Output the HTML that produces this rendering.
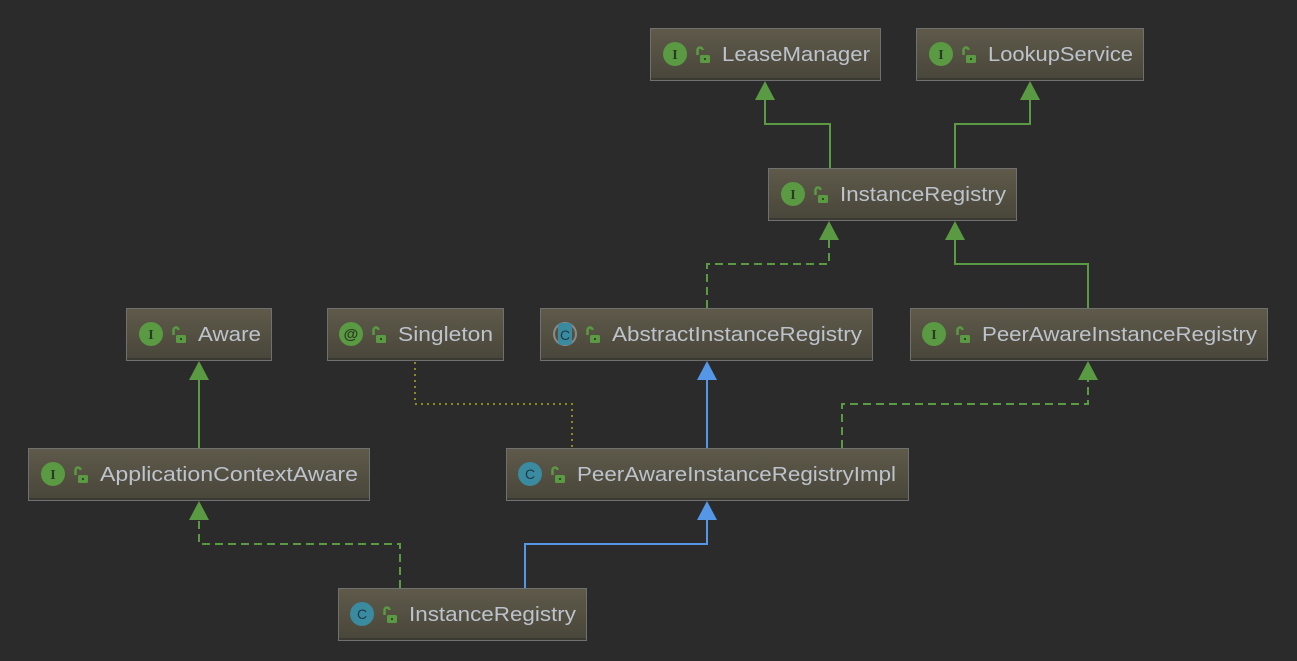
<!DOCTYPE html>
<html><head><meta charset="utf-8"><style>
html,body{margin:0;padding:0;background:#2b2b2b;width:1297px;height:661px;overflow:hidden}
</style></head><body>
<svg width="1297" height="661" viewBox="0 0 1297 661" xmlns="http://www.w3.org/2000/svg" font-family="'Liberation Sans',sans-serif">
<defs>
<linearGradient id="g" x1="0" y1="0" x2="0" y2="1">
<stop offset="0" stop-color="#5f5a4a"/><stop offset="1" stop-color="#48463a"/>
</linearGradient>
<g id="lock"><path d="M-4.5,-1 v-5 a2.5,2.5 0 0 1 5,0" fill="none" stroke="#5a9a42" stroke-width="2.5"/><rect x="-2" y="-1" width="10" height="8" rx="1.5" fill="#5a9a42"/><rect x="2" y="2" width="2" height="2" fill="#2e4a22"/></g>
</defs>
<g fill="none" stroke-width="2">
<path d="M830 168 V124 H765 V98" stroke="#5a9a42"/>
<path d="M955 168 V124 H1030 V98" stroke="#5a9a42"/>
<path d="M707 308 V264 H829 V238" stroke="#5a9a42" stroke-dasharray="8,5"/>
<path d="M1088 308 V264 H955 V238" stroke="#5a9a42"/>
<path d="M199 448 V378" stroke="#5a9a42"/>
<path d="M415 362 V404 H572 V448" stroke="#8a8a20" stroke-dasharray="2,4"/>
<path d="M707 448 V378" stroke="#5596e6"/>
<path d="M842 448 V404 H1088 V378" stroke="#5a9a42" stroke-dasharray="8,5"/>
<path d="M400 588 V544 H199 V518" stroke="#5a9a42" stroke-dasharray="8,5"/>
<path d="M525 588 V544 H707 V518" stroke="#5596e6"/>
</g>
<g fill="#5a9a42">
<path d="M765 81 L755 100 H775Z"/>
<path d="M1030 81 L1020 100 H1040Z"/>
<path d="M829 221 L819 240 H839Z"/>
<path d="M955 221 L945 240 H965Z"/>
<path d="M199 361 L189 380 H209Z"/>
<path d="M1088 361 L1078 380 H1098Z"/>
<path d="M199 501 L189 520 H209Z"/>
</g>
<g fill="#5596e6">
<path d="M707 361 L697 380 H717Z"/>
<path d="M707 501 L697 520 H717Z"/>
</g>
<g font-size="20" fill="#bcc3cc">
<g transform="translate(650,28)"><rect x="0.5" y="0.5" width="230" height="52" fill="url(#g)" stroke="#707070"/><line x1="1" y1="51" x2="230" y2="51" stroke="#3a3a32" stroke-width="2"/><circle cx="25" cy="26" r="12" fill="#5a9a42"/><text x="25" y="31" font-family="'Liberation Serif',serif" font-size="14" font-weight="bold" fill="#2b3a22" text-anchor="middle">I</text><use href="#lock" x="52" y="28"/><text x="72" y="33" textLength="148" lengthAdjust="spacingAndGlyphs">LeaseManager</text></g>
<g transform="translate(916,28)"><rect x="0.5" y="0.5" width="227" height="52" fill="url(#g)" stroke="#707070"/><line x1="1" y1="51" x2="227" y2="51" stroke="#3a3a32" stroke-width="2"/><circle cx="25" cy="26" r="12" fill="#5a9a42"/><text x="25" y="31" font-family="'Liberation Serif',serif" font-size="14" font-weight="bold" fill="#2b3a22" text-anchor="middle">I</text><use href="#lock" x="52" y="28"/><text x="72" y="33" textLength="145" lengthAdjust="spacingAndGlyphs">LookupService</text></g>
<g transform="translate(768,168)"><rect x="0.5" y="0.5" width="248" height="52" fill="url(#g)" stroke="#707070"/><line x1="1" y1="51" x2="248" y2="51" stroke="#3a3a32" stroke-width="2"/><circle cx="25" cy="26" r="12" fill="#5a9a42"/><text x="25" y="31" font-family="'Liberation Serif',serif" font-size="14" font-weight="bold" fill="#2b3a22" text-anchor="middle">I</text><use href="#lock" x="52" y="28"/><text x="72" y="33" textLength="166" lengthAdjust="spacingAndGlyphs">InstanceRegistry</text></g>
<g transform="translate(126,308)"><rect x="0.5" y="0.5" width="145" height="52" fill="url(#g)" stroke="#707070"/><line x1="1" y1="51" x2="145" y2="51" stroke="#3a3a32" stroke-width="2"/><circle cx="25" cy="26" r="12" fill="#5a9a42"/><text x="25" y="31" font-family="'Liberation Serif',serif" font-size="14" font-weight="bold" fill="#2b3a22" text-anchor="middle">I</text><use href="#lock" x="52" y="28"/><text x="72" y="33" textLength="63" lengthAdjust="spacingAndGlyphs">Aware</text></g>
<g transform="translate(327,308)"><rect x="0.5" y="0.5" width="176" height="52" fill="url(#g)" stroke="#707070"/><line x1="1" y1="51" x2="176" y2="51" stroke="#3a3a32" stroke-width="2"/><circle cx="24" cy="26" r="12" fill="#5a9a42"/><text x="24" y="31" font-size="15" font-weight="bold" fill="#2b3a22" text-anchor="middle">@</text><use href="#lock" x="51" y="28"/><text x="71" y="33" textLength="95" lengthAdjust="spacingAndGlyphs">Singleton</text></g>
<g transform="translate(540,308)"><rect x="0.5" y="0.5" width="332" height="52" fill="url(#g)" stroke="#707070"/><line x1="1" y1="51" x2="332" y2="51" stroke="#3a3a32" stroke-width="2"/><circle cx="25" cy="26" r="11" fill="none" stroke="#8a8a8a" stroke-width="2"/><rect x="18" y="15" width="14" height="22" rx="3" fill="#3a8aa0"/><text x="25" y="32" font-size="14" fill="#1e3a44" text-anchor="middle">C</text><use href="#lock" x="52" y="28"/><text x="72" y="33" textLength="250" lengthAdjust="spacingAndGlyphs">AbstractInstanceRegistry</text></g>
<g transform="translate(910,308)"><rect x="0.5" y="0.5" width="357" height="52" fill="url(#g)" stroke="#707070"/><line x1="1" y1="51" x2="357" y2="51" stroke="#3a3a32" stroke-width="2"/><circle cx="24" cy="26" r="12" fill="#5a9a42"/><text x="24" y="31" font-family="'Liberation Serif',serif" font-size="14" font-weight="bold" fill="#2b3a22" text-anchor="middle">I</text><use href="#lock" x="52" y="28"/><text x="72" y="33" textLength="275" lengthAdjust="spacingAndGlyphs">PeerAwareInstanceRegistry</text></g>
<g transform="translate(28,448)"><rect x="0.5" y="0.5" width="341" height="52" fill="url(#g)" stroke="#707070"/><line x1="1" y1="51" x2="341" y2="51" stroke="#3a3a32" stroke-width="2"/><circle cx="25" cy="26" r="12" fill="#5a9a42"/><text x="25" y="31" font-family="'Liberation Serif',serif" font-size="14" font-weight="bold" fill="#2b3a22" text-anchor="middle">I</text><use href="#lock" x="52" y="28"/><text x="72" y="33" textLength="258" lengthAdjust="spacingAndGlyphs">ApplicationContextAware</text></g>
<g transform="translate(506,448)"><rect x="0.5" y="0.5" width="402" height="52" fill="url(#g)" stroke="#707070"/><line x1="1" y1="51" x2="402" y2="51" stroke="#3a3a32" stroke-width="2"/><circle cx="24" cy="26" r="12" fill="#3a8aa0"/><text x="24" y="31" font-size="14" fill="#1e3a44" text-anchor="middle">C</text><use href="#lock" x="51" y="28"/><text x="71" y="33" textLength="319" lengthAdjust="spacingAndGlyphs">PeerAwareInstanceRegistryImpl</text></g>
<g transform="translate(338,588)"><rect x="0.5" y="0.5" width="248" height="52" fill="url(#g)" stroke="#707070"/><line x1="1" y1="51" x2="248" y2="51" stroke="#3a3a32" stroke-width="2"/><circle cx="24" cy="26" r="12" fill="#3a8aa0"/><text x="24" y="31" font-size="14" fill="#1e3a44" text-anchor="middle">C</text><use href="#lock" x="51" y="28"/><text x="71" y="33" textLength="167" lengthAdjust="spacingAndGlyphs">InstanceRegistry</text></g>
</g>
</svg>
</body></html>
